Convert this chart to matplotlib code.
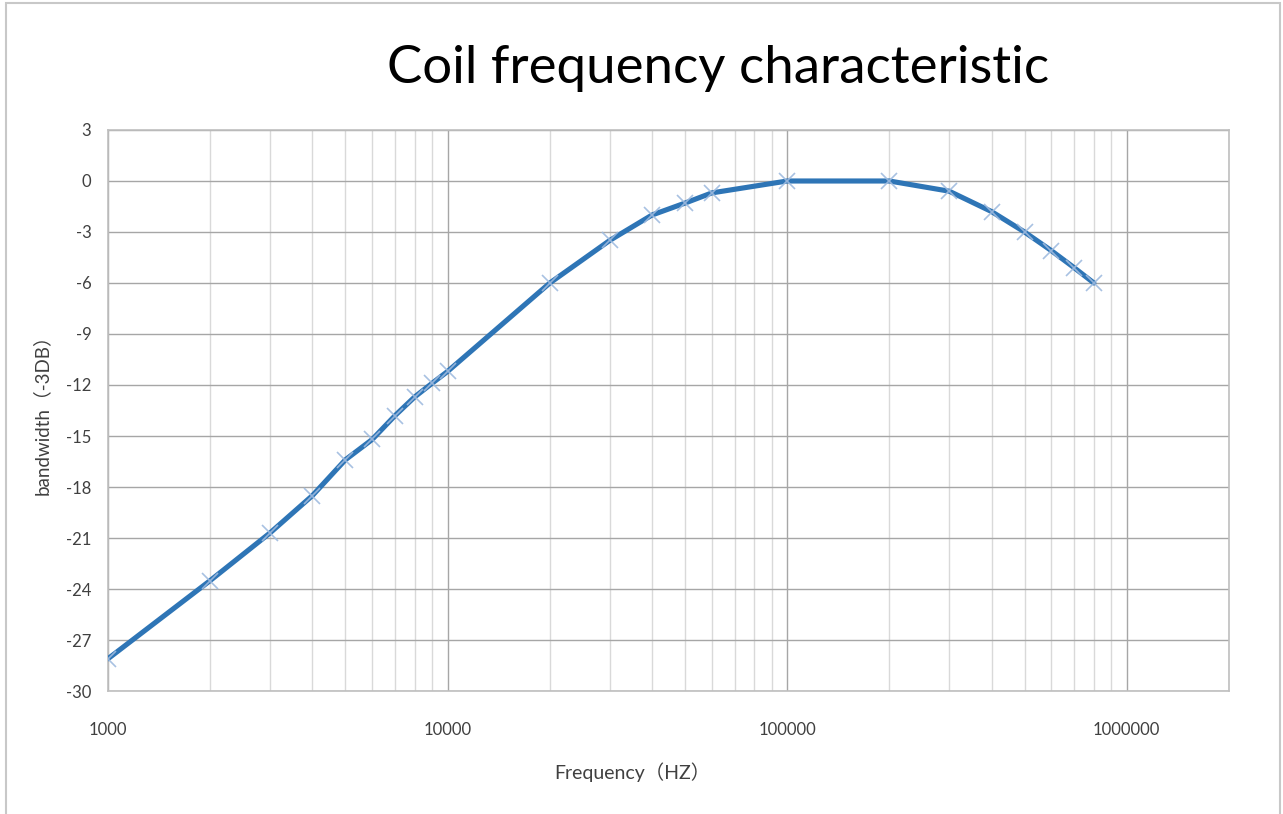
import numpy as np
import matplotlib
matplotlib.use('Agg')
import matplotlib.pyplot as plt
from matplotlib.ticker import LogLocator, FixedLocator, NullFormatter, FuncFormatter
from matplotlib.patches import Rectangle

# Data
freq_hz = [1000, 2000, 3000, 4000, 5000, 6000, 7000, 8000, 9000, 10000,
           20000, 30000, 40000, 50000, 60000, 100000, 200000, 300000,
           400000, 500000, 600000, 700000, 800000]
gain_db = [-28.1, -23.5, -20.7, -18.5, -16.4, -15.2, -13.8, -12.7, -11.9, -11.2,
           -6.0, -3.5, -2.0, -1.3, -0.7, 0.0, 0.0, -0.6,
           -1.8, -3.0, -4.1, -5.1, -6.0]
y_ticks = list(range(-30, 4, 3))
x_ticks = [1000, 10000, 100000, 1000000]

fonts = ['Lato', 'Noto Sans CJK SC', 'DejaVu Sans']
plt.rcParams['font.family'] = fonts
plt.rcParams['axes.unicode_minus'] = False

fig = plt.figure(figsize=(12.83, 8.14), dpi=100)
ax = fig.add_axes([0.0842, 0.1511, 0.8737, 0.6892])

# outer chart border
fig.patches.append(Rectangle((6 / 1283, -0.01), 1274 / 1283, 1 - 3 / 814 + 0.01,
                             transform=fig.transFigure, fill=False,
                             edgecolor='#C8C8C8', linewidth=1.5))

ax.plot(freq_hz, gain_db, color='#2E75B6', linewidth=3.7, zorder=3,
        solid_capstyle='round', solid_joinstyle='round')
ax.plot(freq_hz, gain_db, linestyle='none', marker='x', markersize=12,
        markeredgewidth=1.2, color='#9FBBDF', zorder=4, alpha=0.9)

ax.set_xscale('log')
ax.set_xlim(1000, 2000000)
ax.set_ylim(-30, 3)

ax.xaxis.set_major_locator(FixedLocator(x_ticks))
ax.xaxis.set_major_formatter(FuncFormatter(lambda v, p: f'{int(round(v))}'))
ax.xaxis.set_minor_locator(LogLocator(base=10, subs=np.arange(2, 10), numticks=20))
ax.xaxis.set_minor_formatter(NullFormatter())
ax.set_yticks(y_ticks)

ax.grid(which='major', axis='both', color='#A6A6A6', linewidth=1.0, zorder=0)
ax.grid(which='minor', axis='x', color='#D9D9D9', linewidth=1.0, zorder=0)
ax.tick_params(which='both', length=0, labelsize=12, colors='#404040')
ax.tick_params(axis='x', pad=22)
ax.tick_params(axis='y', pad=12)
for s in ax.spines.values():
    s.set_color('#BFBFBF')
    s.set_linewidth(1.2)

fig.text(718 / 1283, 1 - 68 / 814, 'Coil frequency characteristic', fontsize=38,
         color='black', ha='center', va='center')
ax.set_xlabel('Frequency（HZ）', fontsize=14, color='#404040')
ax.xaxis.set_label_coords((632 - 108) / 1121, -(772 - 691) / 561)
ax.xaxis.label.set_va('center')
ax.set_ylabel('bandwidth（-3DB）', fontsize=13.5, color='#404040')
ax.yaxis.set_label_coords(-(108 - 42) / 1121, (691 - 410) / 561)
ax.yaxis.label.set_va('center')

fig.savefig('out.png', dpi=100, facecolor='white')
